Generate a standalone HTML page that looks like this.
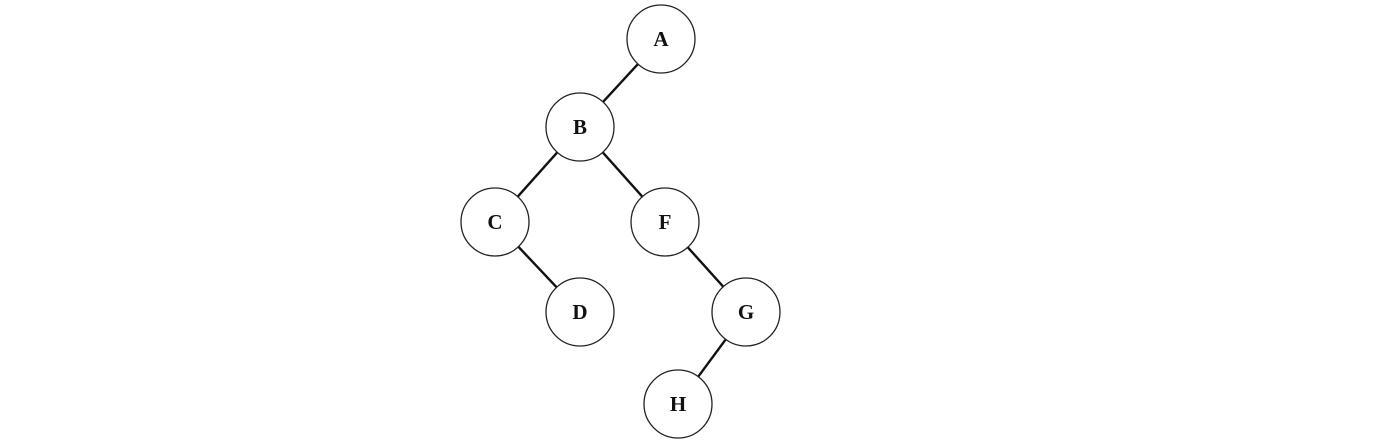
<!DOCTYPE html>
<html><head><meta charset="utf-8"><style>
html,body{margin:0;padding:0;background:#fff;width:1387px;height:445px;overflow:hidden}
</style></head><body>
<svg id="tree" width="1387" height="445" xmlns="http://www.w3.org/2000/svg"></svg>
<script>
const nodeLabels = ["A","B","C","F","D","G","H"];
const nodeX = [661,580,495,665,580,746,678];
const nodeY = [39,127,222,222,312,312,404];
const edgesFrom = ["A","B","B","C","F","G"];
const edgesTo = ["B","C","F","D","G","H"];
const R = 34;
const svg = document.getElementById('tree');
const NS = "http://www.w3.org/2000/svg";
function pos(l){const i=nodeLabels.indexOf(l);return [nodeX[i],nodeY[i]];}
for(let k=0;k<edgesFrom.length;k++){
  const [x1,y1]=pos(edgesFrom[k]),[x2,y2]=pos(edgesTo[k]);
  const d=Math.hypot(x2-x1,y2-y1),ux=(x2-x1)/d,uy=(y2-y1)/d;
  const ln=document.createElementNS(NS,'line');
  ln.setAttribute('x1',x1+ux*R);ln.setAttribute('y1',y1+uy*R);
  ln.setAttribute('x2',x2-ux*R);ln.setAttribute('y2',y2-uy*R);
  ln.setAttribute('stroke','#111');ln.setAttribute('stroke-width','2.4');
  
  
  svg.appendChild(ln);
}
for(let i=0;i<nodeLabels.length;i++){
  const g=document.createElementNS(NS,'g');
  
  
  const c=document.createElementNS(NS,'circle');
  c.setAttribute('cx',nodeX[i]);c.setAttribute('cy',nodeY[i]);c.setAttribute('r',R);
  c.setAttribute('fill','#fff');c.setAttribute('stroke','#222');c.setAttribute('stroke-width','1.3');
  g.appendChild(c);
  const t=document.createElementNS(NS,'text');
  t.setAttribute('x',nodeX[i]);t.setAttribute('y',nodeY[i]+7);
  t.setAttribute('text-anchor','middle');
  t.setAttribute('font-family','"Liberation Serif", serif');
  t.setAttribute('font-weight','bold');
  t.setAttribute('font-size','21');t.setAttribute('fill','#111');
  t.textContent=nodeLabels[i];
  g.appendChild(t);
  svg.appendChild(g);
}
</script>
</body></html>
